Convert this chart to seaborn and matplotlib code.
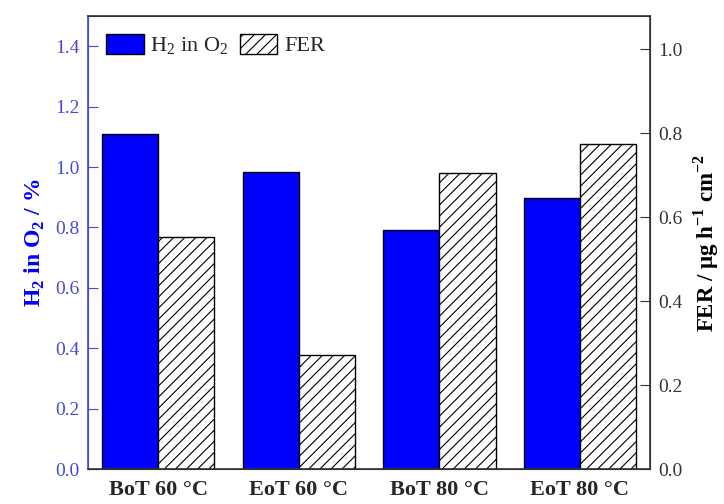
import seaborn as sns
import matplotlib.pyplot as plt
import pandas as pd
from matplotlib.patches import Patch

# data
conditions = ["BoT 60 °C", "EoT 60 °C", "BoT 80 °C", "EoT 80 °C"]
h2_in_o2 = [1.11, 0.983, 0.793, 0.897]   # %
fer = [0.553, 0.271, 0.706, 0.775]       # µg h-1 cm-2
series = ["H2", "FER"]

sns.set_style("ticks")
plt.rcParams['font.family'] = ['Liberation Serif', 'DejaVu Serif']
plt.rcParams['mathtext.fontset'] = 'custom'
plt.rcParams['mathtext.rm'] = 'Liberation Serif'
plt.rcParams['mathtext.bf'] = 'Liberation Serif:bold'
plt.rcParams['hatch.linewidth'] = 0.8

blue = "#0000ff"
tick_blue = "#4848d8"

df_h2 = pd.DataFrame({"cond": conditions, "val": h2_in_o2, "s": "H2"})
df_fer = pd.DataFrame({"cond": conditions, "val": fer, "s": "FER"})

fig, ax = plt.subplots(figsize=(7.24, 5.04), dpi=100)
fig.subplots_adjust(left=0.1215, right=0.898, top=0.968, bottom=0.0694)
ax2 = ax.twinx()

sns.barplot(data=df_h2, x="cond", y="val", hue="s", hue_order=series,
            palette={"H2": blue, "FER": "white"}, width=0.8, dodge=True,
            saturation=1, edgecolor="black", linewidth=1, legend=False, ax=ax)
sns.barplot(data=df_fer, x="cond", y="val", hue="s", hue_order=series,
            palette={"H2": blue, "FER": "white"}, width=0.8, dodge=True,
            saturation=1, edgecolor="black", linewidth=1, legend=False, ax=ax2)
for p in ax2.patches:
    p.set_hatch("///")

ax.set_xlim(-0.5, 3.5)
ax.set_ylim(0, 1.5)
ax2.set_ylim(0, 1.079)
ax.set_yticks([0, 0.2, 0.4, 0.6, 0.8, 1.0, 1.2, 1.4])
ax2.set_yticks([0, 0.2, 0.4, 0.6, 0.8, 1.0])
ax.yaxis.set_major_formatter(plt.FormatStrFormatter('%.1f'))
ax2.yaxis.set_major_formatter(plt.FormatStrFormatter('%.1f'))

ax.set_xlabel("")
ax.set_ylabel(r"H$_\mathbf{2}$ in O$_\mathbf{2}$ / %", color=blue,
              fontsize=17, fontweight="bold", labelpad=6)
ax2.set_ylabel(r"FER / µg h$^{\mathbf{-1}}$ cm$^{\mathbf{-2}}$", color="black",
               fontsize=16.5, fontweight="bold", labelpad=6)

ax.tick_params(axis="y", direction="in", length=7, colors=tick_blue,
               labelsize=14, pad=6)
ax.tick_params(axis="x", length=0, labelsize=16, pad=8)
for lab in ax.get_xticklabels():
    lab.set_fontweight("bold")
ax2.tick_params(axis="y", direction="in", length=7, colors="#333333",
                labelsize=14, pad=6)

for sp in ax2.spines.values():
    sp.set_linewidth(1.2)
    sp.set_color("#333333")
ax2.spines["left"].set_color(tick_blue)
ax.spines["left"].set_color(tick_blue)

handles = [Patch(facecolor=blue, edgecolor="black", label=r"H$_2$ in O$_2$"),
           Patch(facecolor="white", edgecolor="black", hatch="///", label="FER")]
ax.legend(handles=handles, loc="upper left", ncol=2, frameon=False,
          fontsize=16, handlelength=1.7, handleheight=1.0, handletextpad=0.3,
          columnspacing=0.5, borderaxespad=0.4, bbox_to_anchor=(0.0, 1.0))

fig.savefig("out.png", dpi=100)
